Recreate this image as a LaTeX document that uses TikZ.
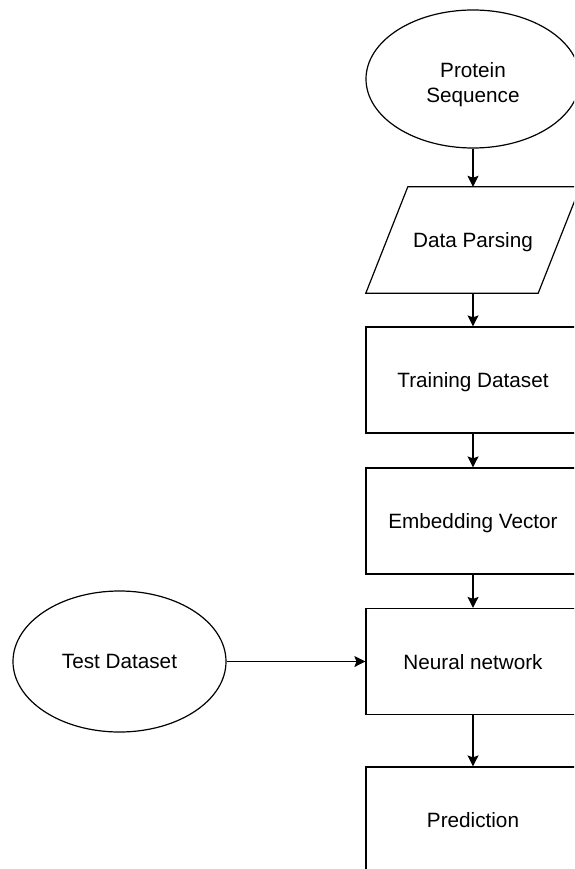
\documentclass[tikz,border=0pt]{standalone}
\usepackage{fontspec}
\setmainfont{Liberation Sans}
\usetikzlibrary{arrows.meta,shapes.geometric}
\begin{document}
\begin{tikzpicture}[x=1pt,y=-1pt,
  every node/.style={font=\fontsize{20.7}{25}\selectfont, align=center, inner sep=0pt, text depth=0pt},
  stepbox/.style={draw, rectangle, line width=1.2pt, minimum width=214pt, minimum height=106pt},
  oval/.style={draw, ellipse, line width=1.2pt},
  flow/.style={line width=1.2pt, -{Stealth[length=11pt,width=11pt,inset=2pt]}}]
\useasboundingbox (0,0) rectangle (574,869);
\clip (0,0) rectangle (574,869);

\node[oval, minimum width=214pt, minimum height=138pt] (protein) at (473,79) {};
\node (proteintext) at (473,83) {Protein\\Sequence};
% parallelogram drawn around an invisible placeholder node
\node[rectangle, minimum width=214pt, minimum height=106pt] (parse) at (473,240) {Data Parsing};
\draw[line width=1.2pt] ([xshift=42pt]parse.north west) -- (parse.north east)
  -- ([xshift=-42pt]parse.south east) -- (parse.south west) -- cycle;
\node[stepbox] (train) at (473,380) {Training Dataset};
\node[stepbox] (embed) at (473,521) {Embedding Vector};
\node[stepbox] (nn) at (473,661.5) {Neural network};
\node[stepbox] (pred) at (473,820) {Prediction};
\node[oval, minimum width=213pt, minimum height=141pt] (test) at (119.5,661.5) {Test Dataset};

\draw[flow] (protein) -- (parse);
\draw[flow] (parse) -- (train);
\draw[flow] (train) -- (embed);
\draw[flow] (embed) -- (nn);
\draw[flow] (nn) -- (pred);
\draw[flow] (test) -- (nn);
\end{tikzpicture}
\end{document}
